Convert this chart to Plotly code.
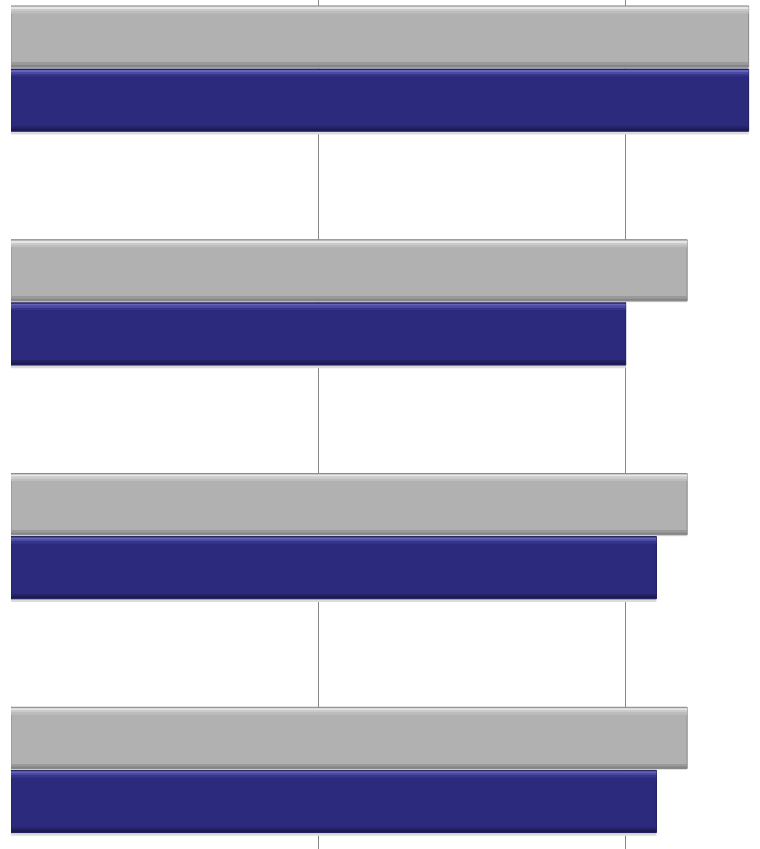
import plotly.graph_objects as go

categories = ["Category 1", "Category 2", "Category 3", "Category 4"]
series_gray = [2.4, 2.2, 2.2, 2.2]
series_navy = [2.4, 2.0, 2.1, 2.1]

GRAY = "#b1b1b1"
NAVY = "#2b2a7c"

fig = go.Figure()

def add_bar(vals, color, line, offset, width, name):
    fig.add_trace(go.Bar(
        x=vals, y=categories, orientation="h", name=name,
        marker=dict(color=color, line=dict(color=line, width=1)),
        offset=offset, width=width, showlegend=False, hoverinfo="skip"))

def add_strip(vals, color, offset, width):
    fig.add_trace(go.Bar(
        x=vals, y=categories, orientation="h",
        marker=dict(color=color, line=dict(width=0)),
        offset=offset, width=width, showlegend=False, hoverinfo="skip"))

# soft shadows
add_strip(series_gray, "#e2e2e2", -0.262, 0.262)
add_strip(series_navy, "#dcdcdc", 0.008, 0.274)

# gray bars with bevel
add_bar(series_gray, GRAY, "#8a8a8a", -0.268, 0.262, "Gray")
add_strip(series_gray, "#e6e6e6", -0.264, 0.010)
add_strip(series_gray, "#cbcbcb", -0.254, 0.010)
add_strip(series_gray, "#bdbdbd", -0.244, 0.008)
add_strip(series_gray, "#9a9a9a", -0.024, 0.008)
add_strip(series_gray, "#858585", -0.016, 0.009)

# navy bars with bevel
add_bar(series_navy, NAVY, "#1d1c5a", 0.002, 0.266, "Navy")
add_strip(series_navy, "#6465b8", 0.006, 0.009)
add_strip(series_navy, "#4a4aa3", 0.015, 0.010)
add_strip(series_navy, "#36358d", 0.025, 0.008)
add_strip(series_navy, "#242368", 0.247, 0.009)
add_strip(series_navy, "#1b1a55", 0.256, 0.010)

fig.update_layout(
    width=760, height=849,
    margin=dict(l=11, r=0, t=0, b=0),
    paper_bgcolor="white", plot_bgcolor="white",
    barmode="overlay",
    showlegend=False,
    xaxis=dict(range=[0, 749 / 307.35], tickvals=[1, 2], showgrid=True,
               gridcolor="#868686", gridwidth=1, zeroline=False,
               showticklabels=False, showline=False, fixedrange=True),
    yaxis=dict(range=[3.3383, -0.2934], showgrid=False, zeroline=False,
               showticklabels=False, showline=False, fixedrange=True),
)

fig.write_html("out.html", config={"displayModeBar": False},
               post_script="document.body.style.margin='0';")
